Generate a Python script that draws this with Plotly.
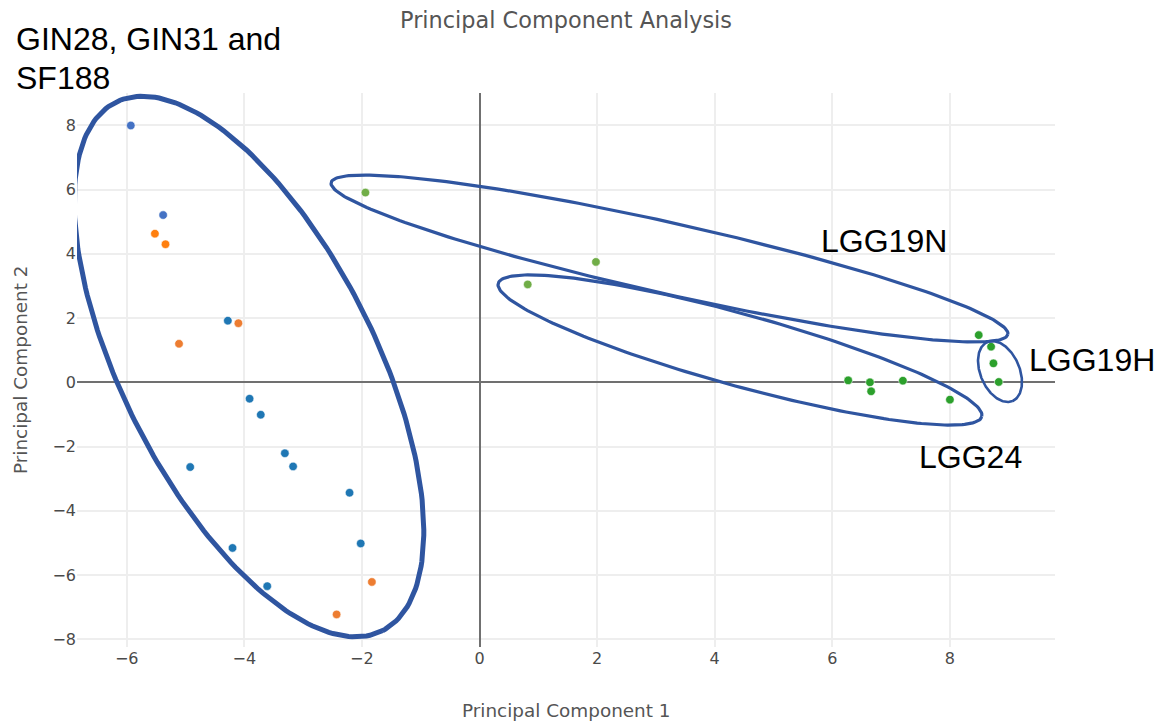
import numpy as np
import plotly.graph_objects as go

# ---- sample scores on the first two principal components ----
pc1_lightblue = [-5.93, -5.38]
pc2_lightblue = [8.00, 5.21]

pc1_blue = [-4.28, -3.91, -3.72, -4.92, -3.31, -3.17, -2.21, -2.02, -4.20, -3.61]
pc2_blue = [1.92, -0.51, -1.01, -2.64, -2.21, -2.62, -3.44, -5.02, -5.16, -6.35]

pc1_orange = [-5.52, -5.34]
pc2_orange = [4.63, 4.30]

pc1_darkorange = [-5.11, -4.10, -1.83, -2.43]
pc2_darkorange = [1.20, 1.84, -6.22, -7.23]

pc1_olive = [-1.94, 1.98, 0.82]
pc2_olive = [5.91, 3.75, 3.05]

pc1_green = [8.49, 8.70, 8.74, 8.83, 6.27, 6.64, 6.66, 7.20, 8.00]
pc2_green = [1.47, 1.11, 0.59, 0.01, 0.06, 0.00, -0.28, 0.05, -0.54]

x_ticks = [-6, -4, -2, 0, 2, 4, 6, 8]
y_ticks = [-8, -6, -4, -2, 0, 2, 4, 6, 8]

# ---- figure geometry ----
W, H = 1162, 725
ML, MR, MT, MB = 77, 107, 93, 78
X_RANGE = [-6.845, 9.787]
Y_RANGE = [-8.246, 9.012]
plot_w = W - ML - MR
plot_h = H - MT - MB
sx = plot_w / (X_RANGE[1] - X_RANGE[0])
sy = plot_h / (Y_RANGE[1] - Y_RANGE[0])


def to_data(px, py):
    """Convert page pixel positions into axis units."""
    return (X_RANGE[0] + (np.asarray(px) - ML) / sx,
            Y_RANGE[1] - (np.asarray(py) - MT) / sy)


def paper(px, py):
    """Page pixels -> paper fractions."""
    return (px - ML) / plot_w, 1 - (py - MT) / plot_h


def ellipse(cx, cy, a, b, angle_deg, n=240):
    """Rotated ellipse outline given in page pixels (y downwards)."""
    t = np.linspace(0, 2 * np.pi, n)
    th = np.radians(angle_deg)
    px = cx + a * np.cos(th) * np.cos(t) - b * np.sin(th) * np.sin(t)
    py = cy + a * np.sin(th) * np.cos(t) + b * np.cos(th) * np.sin(t)
    return to_data(px, py)


marker_line = dict(width=0.8, color="rgba(255,255,255,0.7)")

fig = go.Figure()
series = [
    ("GIN28", pc1_lightblue, pc2_lightblue, "#4472c4"),
    ("GIN31", pc1_blue, pc2_blue, "#1f77b4"),
    ("SF188", pc1_orange, pc2_orange, "#ff7f0e"),
    ("SF188 rep", pc1_darkorange, pc2_darkorange, "#ed7d31"),
    ("LGG19N", pc1_olive, pc2_olive, "#70ad47"),
    ("LGG24 / LGG19H", pc1_green, pc2_green, "#2ca02c"),
]
for name, xs, ys, col in series:
    fig.add_trace(go.Scatter(x=xs, y=ys, mode="markers", name=name,
                             marker=dict(size=8.5, color=col, line=marker_line)))

# group outlines
outline = "#2f55a0"
groups = [
    (249, 366.5, 296, 126.5, 63.2, 5.0),
    (669.5, 258.5, 346.8, 35.5, 12.65, 3.2),
    (740, 350, 250.8, 35.9, 15.4, 3.2),
    (1000, 371.5, 32.1, 19.6, 66.9, 2.6),
]
for cx, cy, a, b, ang, lw in groups:
    ex, ey = ellipse(cx, cy, a, b, ang)
    fig.add_trace(go.Scatter(x=ex, y=ey, mode="lines", showlegend=False,
                             hoverinfo="skip",
                             line=dict(color=outline, width=lw)))

axis_font = dict(family="DejaVu Sans", size=16, color="#4a4a4a")
title_font = dict(family="DejaVu Sans", size=18.4, color="#555")

fig.update_layout(
    width=W, height=H,
    margin=dict(l=ML, r=MR, t=MT, b=MB),
    paper_bgcolor="white", plot_bgcolor="white",
    showlegend=False,
    title=dict(text="Principal Component Analysis", x=(ML + plot_w / 2) / W,
               xanchor="center", y=1 - 20 / H, yanchor="middle",
               font=dict(family="DejaVu Sans", size=22.4, color="#555")),
    xaxis=dict(range=X_RANGE, tickvals=x_ticks, showgrid=True,
               gridcolor="#eeeeee", gridwidth=1.5, zeroline=True,
               zerolinecolor="#707070", zerolinewidth=1.5, showline=False,
               ticks="", tickfont=axis_font),
    yaxis=dict(range=Y_RANGE, tickvals=y_ticks, showgrid=True,
               gridcolor="#eeeeee", gridwidth=1.5, zeroline=True,
               zerolinecolor="#707070", zerolinewidth=1.5, showline=False,
               ticks="", tickfont=axis_font),
)

# axis titles
ax_x, ax_y = paper(ML + plot_w / 2, 710)
fig.add_annotation(text="Principal Component 1", xref="paper", yref="paper",
                   x=ax_x, y=ax_y, xanchor="center", yanchor="middle",
                   showarrow=False, font=title_font)
ay_x, ay_y = paper(20, MT + plot_h / 2)
fig.add_annotation(text="Principal Component 2", xref="paper", yref="paper",
                   x=ay_x, y=ay_y, xanchor="center", yanchor="middle",
                   textangle=-90, showarrow=False, font=title_font)

label_font = dict(family="Liberation Sans", size=32, color="black")
labels = [
    ("GIN28, GIN31 and", 15, 39.5),
    ("SF188", 15, 77.5),
    ("LGG19N", 820, 241),
    ("LGG19H", 1028, 360),
    ("LGG24", 918, 457),
]
for text, px, py in labels:
    lx, ly = paper(px, py)
    fig.add_annotation(text=text, xref="paper", yref="paper", x=lx, y=ly,
                       xanchor="left", yanchor="middle", showarrow=False,
                       font=label_font, borderpad=0)

fig.write_html("out.html")
